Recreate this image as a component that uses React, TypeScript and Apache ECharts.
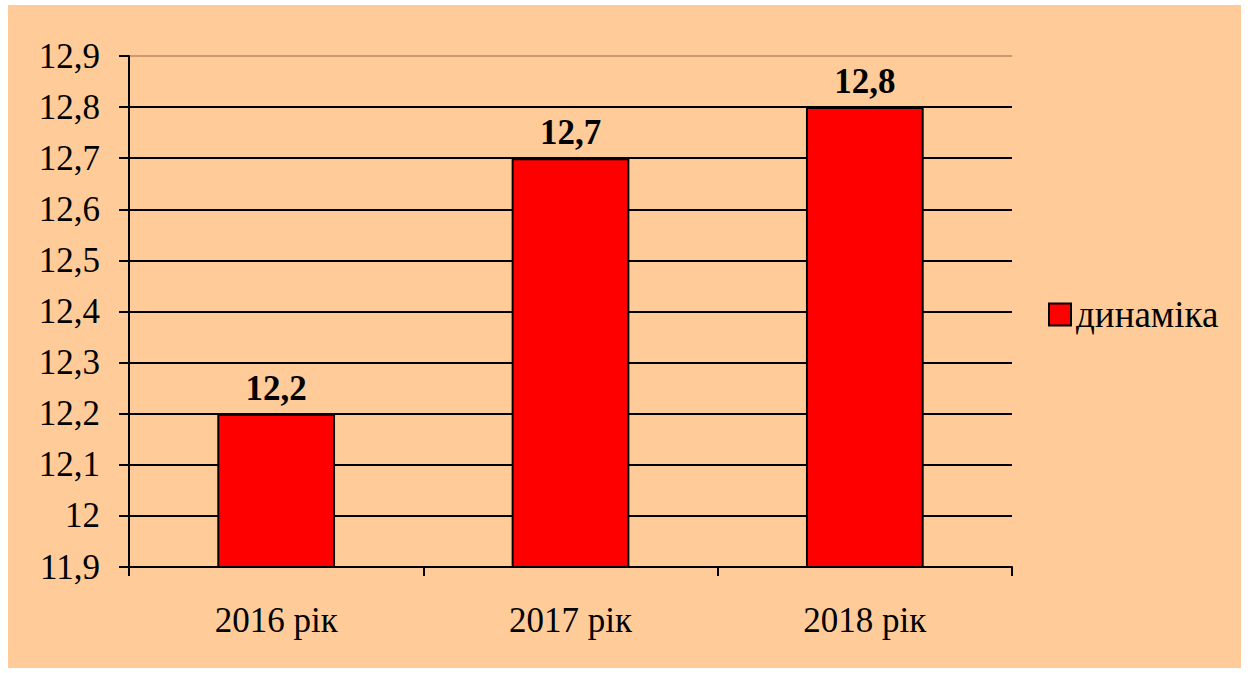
import React, { useEffect, useRef } from "react";
import * as echarts from "echarts";

const categories = ["2016 рік", "2017 рік", "2018 рік"];
const values = [12.2, 12.7, 12.8];
const seriesName = "динаміка";
const yMin = 11.9;
const yMax = 12.9;
const yStep = 0.1;

const fmt = (v: number) => String(Number(v.toFixed(1))).replace(".", ",");

export default function App() {
  const ref = useRef<HTMLDivElement>(null);
  useEffect(() => {
    const chart = echarts.init(ref.current!, null, { renderer: "svg" });
    const font = "Liberation Serif";
    const gridColors = ["#000", "#000", "#000", "#000", "#000", "#000", "#000", "#000", "#000", "#000", "#C89A6E"];
    chart.setOption({
      animation: false,
      textStyle: { fontFamily: font },
      graphic: [
        {
          type: "rect",
          shape: { x: 8, y: 5, width: 1233, height: 663 },
          style: { fill: "#FFCC99" },
          z: -10,
          silent: true,
        },
      ],
      grid: { left: 129, top: 56, right: 236, bottom: 106 },
      legend: {
        left: 1043,
        top: 291,
        itemWidth: 22,
        itemHeight: 22,
        icon: "rect",
        itemGap: 8,
        textStyle: { fontFamily: font, fontSize: 37, color: "#000" },
        itemStyle: { color: "#FF0000", borderColor: "#000", borderWidth: 2 },
        data: [seriesName],
      },
      xAxis: {
        type: "category",
        data: categories,
        axisLine: { lineStyle: { color: "#000", width: 2 } },
        axisTick: { show: true, length: 9, lineStyle: { color: "#000", width: 2 } },
        axisLabel: { fontFamily: font, fontSize: 35, color: "#000", margin: 36 },
      },
      yAxis: {
        type: "value",
        min: yMin,
        max: yMax,
        interval: yStep,
        axisLine: { show: true, lineStyle: { color: "#000", width: 2 } },
        axisTick: { show: true, length: 10, lineStyle: { color: "#000", width: 2 } },
        axisLabel: {
          fontFamily: font,
          fontSize: 35,
          color: "#000",
          margin: 29,
          formatter: (v: number) => fmt(v),
        },
        splitLine: { show: true, lineStyle: { color: gridColors, width: 2 } },
      },
      series: [
        {
          name: seriesName,
          type: "bar",
          data: values,
          barWidth: "40%",
          itemStyle: { color: "#FF0000", borderColor: "#000", borderWidth: 2 },
          label: {
            show: true,
            position: "top",
            distance: 8,
            fontFamily: font,
            fontSize: 35,
            fontWeight: "bold",
            color: "#000",
            formatter: (p: any) => fmt(p.value),
          },
        },
      ],
    });
    return () => chart.dispose();
  }, []);
  return (
    <div
      ref={ref}
      style={{ position: "absolute", left: 0, top: 0, width: 1248, height: 673, background: "#fff" }}
    />
  );
}
